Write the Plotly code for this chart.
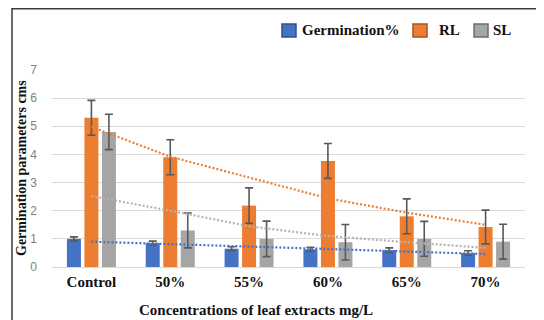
import plotly.graph_objects as go

categories = ["Control", "50%", "55%", "60%", "65%", "70%"]

germination = [1.00, 0.85, 0.65, 0.63, 0.60, 0.50]
germination_err = [0.07, 0.07, 0.07, 0.07, 0.08, 0.08]
rl = [5.30, 3.90, 2.18, 3.77, 1.80, 1.42]
rl_err = [0.62, 0.62, 0.63, 0.62, 0.62, 0.60]
sl = [4.80, 1.30, 1.00, 0.88, 1.00, 0.90]
sl_err = [0.63, 0.62, 0.63, 0.63, 0.62, 0.62]

# trend lines
germination_trend = [0.90, 0.82, 0.73, 0.64, 0.55, 0.46]
rl_trend = [4.98, 3.92, 3.18, 2.44, 1.93, 1.50]
sl_trend = [2.52, 2.00, 1.45, 1.10, 0.88, 0.68]

y_ticks = [0, 1, 2, 3, 4, 5, 6, 7]

BLUE = "#4472C4"
ORANGE = "#ED7D31"
GREY = "#A5A5A5"
ERR = "#595959"
SERIF = "Liberation Serif, Times New Roman, serif"

# page body has an 8px margin, so the figure is drawn 8px in from the corner
OFF = 8
W, H = 536, 312
L, R, T, B = 44, 19, 62, 53


def px(x):
    return (x - OFF - L) / (W - L - R)


def py(y):
    return (H - B - (y - OFF)) / (H - T - B)


fig = go.Figure()

for name, vals, errs, col in [
    ("Germination%", germination, germination_err, BLUE),
    ("RL", rl, rl_err, ORANGE),
    ("SL", sl, sl_err, GREY),
]:
    fig.add_trace(go.Bar(
        x=categories, y=vals, name=name, marker_color=col,
        marker_line_width=0,
        error_y=dict(type="data", array=errs, color=ERR, thickness=1.6, width=4),
        showlegend=False,
    ))

for vals, col in [(germination_trend, BLUE), (sl_trend, "#B4B4B4"), (rl_trend, ORANGE)]:
    fig.add_trace(go.Scatter(
        x=categories, y=vals, mode="lines",
        line=dict(color=col, width=2.2, dash="2px,2px"),
        showlegend=False, hoverinfo="skip",
    ))

BORDER = dict(color="#3a3a3a", width=1.5)
shapes = [
    dict(type="line", xref="paper", yref="paper", x0=px(12), x1=px(12), y0=py(320), y1=py(8), line=BORDER),
    dict(type="line", xref="paper", yref="paper", x0=px(12), x1=px(541), y0=py(8.8), y1=py(8.8), line=BORDER),
    dict(type="line", xref="paper", yref="paper", x0=px(540.5), x1=px(540.5), y0=py(320), y1=py(8), line=BORDER),
]

legend_items = [
    ("Germination%", BLUE, "#2F528F", 282, 296, 300),
    ("RL", ORANGE, "#A9541C", 413, 427, 437),
    ("SL", GREY, "#6E6E6E", 474, 488, 491),
]
annotations = []
for name, fill, edge, x0, x1, tx in legend_items:
    shapes.append(dict(type="rect", xref="paper", yref="paper",
                       x0=px(x0), x1=px(x1), y0=py(37), y1=py(24),
                       line=dict(color=edge, width=1.5), fillcolor=fill))
    annotations.append(dict(text="<b>" + name + "</b>", xref="paper", yref="paper",
                            x=px(tx), y=py(30), xanchor="left", yanchor="middle",
                            showarrow=False,
                            font=dict(family=SERIF, size=15, color="#111111")))

annotations.append(dict(text="<b>Concentrations of leaf extracts mg/L</b>", xref="paper", yref="paper",
                        x=px(256), y=py(310), xanchor="center", yanchor="middle",
                        showarrow=False, font=dict(family=SERIF, size=15, color="#111111")))
annotations.append(dict(text="<b>Germination parameters cms</b>", xref="paper", yref="paper",
                        x=px(21), y=py(168), xanchor="center", yanchor="middle",
                        textangle=-90, showarrow=False,
                        font=dict(family=SERIF, size=14, color="#111111")))

fig.update_layout(
    width=W, height=H,
    margin=dict(l=L, r=R, t=T, b=B),
    paper_bgcolor="white", plot_bgcolor="white",
    barmode="group", bargap=0.334, bargroupgap=0.2,
    showlegend=False,
    shapes=shapes, annotations=annotations,
    xaxis=dict(
        type="category", showgrid=False, zeroline=False, showline=False,
        ticks="", ticklabelstandoff=4,
        tickfont=dict(family=SERIF, size=15, color="#111111", weight="bold"),
    ),
    yaxis=dict(
        range=[0, 7], tickvals=y_ticks, showgrid=True, gridcolor="#D9D9D9", gridwidth=1,
        zeroline=True, zerolinecolor="#D9D9D9", zerolinewidth=1, showline=False,
        ticks="", ticklabelstandoff=14,
        tickfont=dict(family="Liberation Sans, Arial, sans-serif", size=12, color="#7F7F7F"),
    ),
)

fig.write_html("out.html")
